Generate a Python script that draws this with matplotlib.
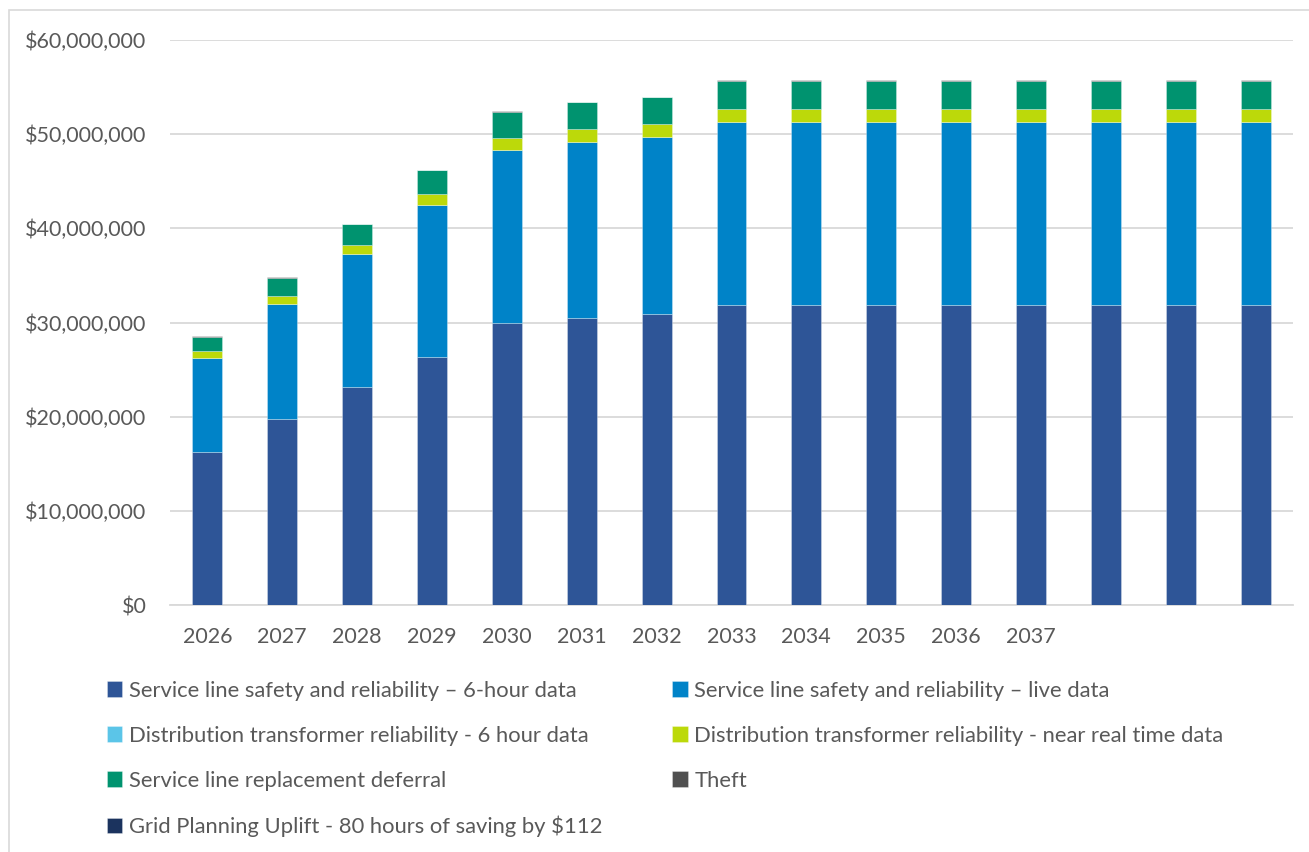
import numpy as np
import matplotlib
matplotlib.use("Agg")
import matplotlib.pyplot as plt
from matplotlib.ticker import FuncFormatter
from matplotlib.patches import Rectangle

plt.rcParams["font.family"] = ["Lato", "DejaVu Sans"]

# =====================================================
# Data (values in $ millions)
# =====================================================
years = ["2026", "2027", "2028", "2029", "2030", "2031", "2032",
         "2033", "2034", "2035", "2036", "2037", "", "", ""]

sl_6hour = [16.25, 19.8, 23.1, 26.37, 29.9, 30.5, 30.87,
            31.82, 31.82, 31.82, 31.82, 31.82, 31.82, 31.82, 31.82]
sl_live = [10.01, 12.2, 14.14, 16.11, 18.38, 18.7, 18.86,
           19.51, 19.51, 19.51, 19.51, 19.51, 19.51, 19.51, 19.51]
dt_6hour = [0.0] * 15
dt_nrt = [0.68, 0.85, 1.02, 1.16, 1.31, 1.3, 1.31,
          1.34, 1.34, 1.34, 1.34, 1.34, 1.34, 1.34, 1.34]
sl_deferral = [1.56, 1.91, 2.16, 2.52, 2.8, 2.88, 2.86,
               2.97, 2.97, 2.97, 2.97, 2.97, 2.97, 2.97, 2.97]
theft = [0.08] * 15
grid_uplift = [0.0] * 15

series = [
    ("Service line safety and reliability \u2013 6-hour data", sl_6hour, "#2E5597"),
    ("Service line safety and reliability \u2013 live data", sl_live, "#0083C8"),
    ("Distribution transformer reliability - 6 hour data", dt_6hour, "#5BC5E8"),
    ("Distribution transformer reliability - near real time data", dt_nrt, "#BCD90A"),
    ("Service line replacement deferral", sl_deferral, "#00936F"),
    ("Theft", theft, "#505050"),
    ("Grid Planning Uplift - 80 hours of saving by $112", grid_uplift, "#1B335E"),
]

# =====================================================
# Plot
# =====================================================
fig = plt.figure(figsize=(13.09, 8.52), dpi=100)
ax = fig.add_axes([170 / 1309, 1 - 605 / 852, 1123 / 1309, 565 / 852])

# chart border (Excel style)
fig.patches.append(Rectangle((9 / 1309, -0.1), 1.2, 1 - 10 / 852 + 0.1,
                             transform=fig.transFigure, fill=False,
                             edgecolor="#D9D9D9", linewidth=1.2))

x = np.arange(len(years))
bottom = np.zeros(len(years))
handles = []
for label, vals, color in series:
    vals = np.array(vals) * 1e6
    h = ax.bar(x, vals, width=0.4, bottom=bottom, color=color, label=label,
               edgecolor=(1, 1, 1, 0.35), linewidth=0.6, zorder=3)
    handles.append(h)
    bottom += vals

ax.set_xlim(-0.5, 14.5)
ax.set_ylim(0, 60e6)
ax.set_yticks(np.arange(0, 60e6 + 1, 10e6))
ax.yaxis.set_major_formatter(FuncFormatter(lambda v, p: f"${v:,.0f}"))
ax.set_xticks(x)
ax.set_xticklabels(years)

ax.grid(axis="y", color="#D9D9D9", linewidth=1.3, zorder=0)
for s in ["top", "right", "left"]:
    ax.spines[s].set_visible(False)
ax.spines["bottom"].set_color("#D9D9D9")
ax.spines["bottom"].set_linewidth(1.3)
ax.tick_params(axis="both", length=0, labelsize=15.5, colors="#595959")
ax.tick_params(axis="y", pad=17)
ax.tick_params(axis="x", pad=16)

# legend, row-wise order in two columns
order = [0, 2, 4, 6, 1, 3, 5]
leg = fig.legend([handles[i] for i in order], [series[i][0] for i in order],
                 loc="upper left", bbox_to_anchor=(87 / 1309, 1 - 661 / 852),
                 ncol=2, frameon=False, fontsize=15.8, labelcolor="#595959",
                 handlelength=0.7, handleheight=0.7, handletextpad=0.3,
                 labelspacing=1.14, columnspacing=3.2)

fig.savefig("out.png", dpi=100)
